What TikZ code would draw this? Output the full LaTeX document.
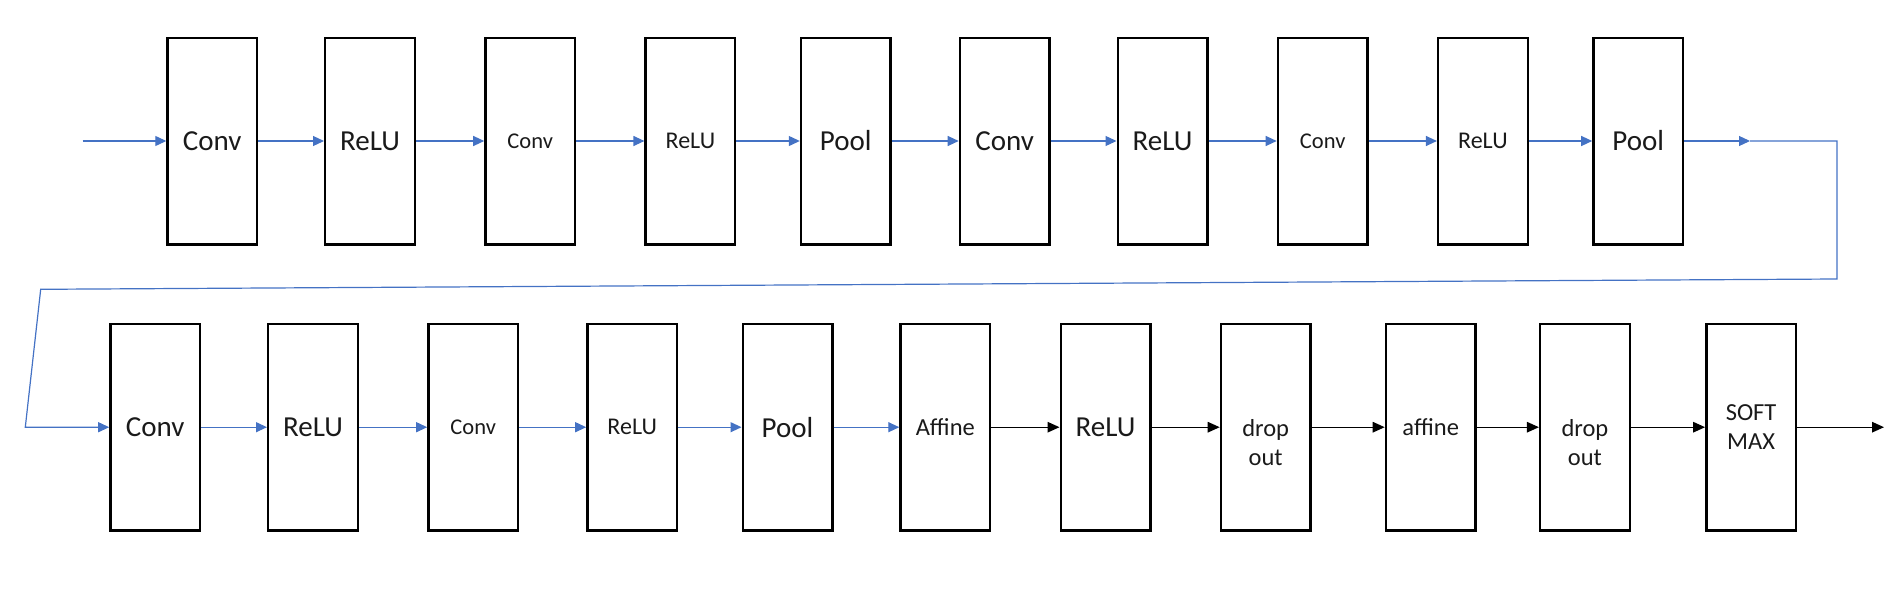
\documentclass[tikz,border=0pt]{standalone}
\usepackage{fontspec}
\setmainfont{Carlito}
\usetikzlibrary{arrows.meta}
\definecolor{arrowblue}{HTML}{4472C4}
\definecolor{txt}{HTML}{1A1A1A}
\begin{document}
\begin{tikzpicture}[x=1pt,y=-1pt,
  blk/.style={draw=black, line width=2.4pt, minimum width=89.6pt, minimum height=206.6pt, inner sep=0pt, text=txt, align=center},
  lbl/.style={inner sep=0pt, text=txt, align=center},
  big/.style={font=\fontsize{29}{34}\selectfont},
  mid/.style={font=\fontsize{24.5}{29}\selectfont},
  sml/.style={font=\fontsize{22.5}{27}\selectfont},
  barrow/.style={draw=arrowblue, line width=1.2pt, line join=miter, -{Triangle[length=11pt,width=10pt]}},
  karrow/.style={draw=black, line width=1.4pt, -{Triangle[length=12pt,width=10.5pt]}}
]
\useasboundingbox (0,0) rectangle (1903,597);
% top row
\node[blk,big] (t1)  at (212.3,141) {Conv};
\node[blk,big] (t2)  at (370.0,141) {ReLU};
\node[blk,sml] (t3)  at (530.2,141) {Conv};
\node[blk,mid,font=\fontsize{24}{29}\selectfont] (t4)  at (690.4,141) {ReLU};
\node[blk,big] (t5)  at (845.8,141) {Pool};
\node[blk,big] (t6)  at (1004.7,141) {Conv};
\node[blk,big] (t7)  at (1162.5,141) {ReLU};
\node[blk,sml] (t8)  at (1322.7,141) {Conv};
\node[blk,font=\fontsize{24}{29}\selectfont] (t9)  at (1482.9,141) {ReLU};
\node[blk,big] (t10) at (1638.2,141) {Pool};
% bottom row
\node[blk,big] (b1)  at (155.2,427.2) {Conv};
\node[blk,big] (b2)  at (313.0,427.2) {ReLU};
\node[blk,sml] (b3)  at (473.2,427.2) {Conv};
\node[blk,font=\fontsize{24}{29}\selectfont] (b4)  at (632.2,427.2) {ReLU};
\node[blk,big] (b5)  at (787.5,427.2) {Pool};
\node[blk,mid] (b6)  at (945.3,427.2) {Affine};
\node[blk,big] (b7)  at (1105.5,427.2) {ReLU};
\node[blk] (b8)  at (1265.7,427.2) {};
\node[lbl,mid] (l8) at ([yshift=-15.5pt]b8.center) {drop\\out};
\node[blk,mid] (b9)  at (1430.7,427.2) {affine};
\node[blk] (b10) at (1584.9,427.2) {};
\node[lbl,mid] (l10) at ([yshift=-15.5pt]b10.center) {drop\\out};
\node[blk,mid] (b11) at (1751.1,427.2) {SOFT\\MAX};
% free ends and bends
\coordinate (in) at (82.5,141);
\coordinate (m1) at (1750,141);
\coordinate (c1) at (1837,141);
\coordinate (c2) at (1837,279);
\coordinate (c3) at (40.7,289.3);
\coordinate (c4) at (25.3,427.2);
\coordinate (out) at (1884,427.2);
% top connectors
\draw[barrow] (in) -- (t1.west);
\draw[barrow] (t1.east) -- (t2.west);
\draw[barrow] (t2.east) -- (t3.west);
\draw[barrow] (t3.east) -- (t4.west);
\draw[barrow] (t4.east) -- (t5.west);
\draw[barrow] (t5.east) -- (t6.west);
\draw[barrow] (t6.east) -- (t7.west);
\draw[barrow] (t7.east) -- (t8.west);
\draw[barrow] (t8.east) -- (t9.west);
\draw[barrow] (t9.east) -- (t10.west);
\draw[barrow] (t10.east) -- (m1);
\draw[barrow] (m1) -- (c1) -- (c2) -- (c3) -- (c4) -- (b1.west);
% bottom connectors
\draw[barrow] (b1.east) -- (b2.west);
\draw[barrow] (b2.east) -- (b3.west);
\draw[barrow] (b3.east) -- (b4.west);
\draw[barrow] (b4.east) -- (b5.west);
\draw[barrow] (b5.east) -- (b6.west);
\draw[karrow] (b6.east) -- (b7.west);
\draw[karrow] (b7.east) -- (b8.west);
\draw[karrow] (b8.east) -- (b9.west);
\draw[karrow] (b9.east) -- (b10.west);
\draw[karrow] (b10.east) -- (b11.west);
\draw[karrow] (b11.east) -- (out);
\end{tikzpicture}
\end{document}
